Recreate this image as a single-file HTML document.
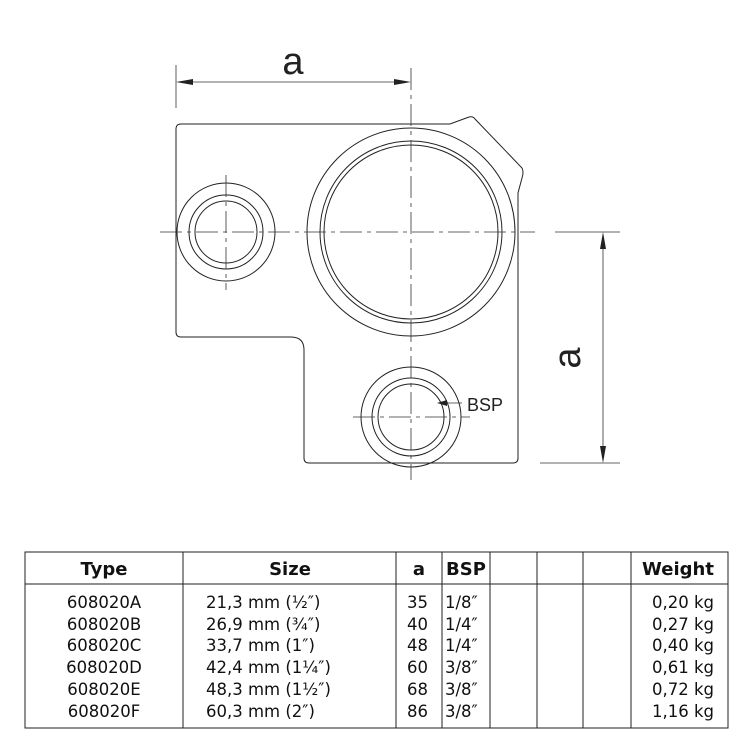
<!DOCTYPE html>
<html><head><style>
body{margin:0;background:#fff;}
svg{display:block}
</style></head><body>
<svg width="750" height="750" xmlns="http://www.w3.org/2000/svg">
<g fill="none" stroke="#222" stroke-width="1">
<path d="M181,124 H450 L469,117 Q473,116 475,119 L522,168 Q524,172 522,178 L518,193 V458 Q518,463 513,463 H309 Q304,463 304,458 V350 Q304,337 291,337 H181 Q176,337 176,332 V129 Q176,124 181,124 Z"/>
<circle cx="411" cy="232" r="104"/>
<circle cx="411" cy="232" r="91"/>
<circle cx="411" cy="232" r="87"/>
<circle cx="226" cy="232" r="49"/>
<circle cx="226" cy="232" r="37"/>
<circle cx="226" cy="232" r="31"/>
<circle cx="411" cy="417" r="50"/>
<circle cx="411" cy="417" r="39"/>
<circle cx="411" cy="417" r="33"/>
</g>
<g stroke="#333" stroke-width="0.8" fill="none" stroke-dasharray="22,5,4,5">
<line x1="160" y1="232" x2="535" y2="232"/>
<line x1="411" y1="68" x2="411" y2="480"/>
<line x1="226" y1="175" x2="226" y2="290"/>
<line x1="353" y1="417" x2="470" y2="417"/>
</g>
<g stroke="#333" stroke-width="0.8">
<line x1="555" y1="232" x2="620" y2="232"/>
<line x1="540" y1="463" x2="620" y2="463"/>
<line x1="176" y1="65" x2="176" y2="108"/>
<line x1="185" y1="82" x2="402" y2="82"/>
<line x1="603" y1="241" x2="603" y2="454"/>
<line x1="445" y1="403" x2="462" y2="403"/>
</g>
<g fill="#222">
<polygon points="176,82 193,79 193,85"/>
<polygon points="411,82 394,79 394,85"/>
<polygon points="603,232 600,249 606,249"/>
<polygon points="603,463 600,446 606,446"/>
<polygon points="437,403 447,400 447,406"/>
</g>
<g font-family="Liberation Sans, sans-serif" fill="#222">
<text x="293" y="74" font-size="38" text-anchor="middle">a</text>
<text x="0" y="0" font-size="38" text-anchor="middle" transform="translate(580,358) rotate(-90)">a</text>
<text x="467" y="411" font-size="18">BSP</text>
</g>
<g stroke="#222" stroke-width="1" fill="none">
<rect x="25" y="552" width="703" height="176"/>
<line x1="25" y1="584" x2="728" y2="584"/>
<line x1="183" y1="552" x2="183" y2="728"/>
<line x1="396" y1="552" x2="396" y2="728"/>
<line x1="442" y1="552" x2="442" y2="728"/>
<line x1="490" y1="552" x2="490" y2="728"/>
<line x1="537" y1="552" x2="537" y2="728"/>
<line x1="583" y1="552" x2="583" y2="728"/>
<line x1="631" y1="552" x2="631" y2="728"/>
</g>
<g font-family="DejaVu Sans, sans-serif" font-size="18" font-weight="bold" fill="#111">
<text x="104" y="575" text-anchor="middle">Type</text>
<text x="290" y="575" text-anchor="middle">Size</text>
<text x="419" y="575" text-anchor="middle">a</text>
<text x="466" y="575" text-anchor="middle">BSP</text>
<text x="678" y="575" text-anchor="middle">Weight</text>
</g>
<g font-family="DejaVu Sans, sans-serif" font-size="16.5" fill="#111">
<g text-anchor="middle">
<text x="104" y="608">608020A</text><text x="104" y="630">608020B</text><text x="104" y="651">608020C</text><text x="104" y="673">608020D</text><text x="104" y="695">608020E</text><text x="104" y="717">608020F</text>
</g>
<text x="206" y="608">21,3 mm (½″)</text><text x="206" y="630">26,9 mm (¾″)</text><text x="206" y="651">33,7 mm (1″)</text><text x="206" y="673">42,4 mm (1¼″)</text><text x="206" y="695">48,3 mm (1½″)</text><text x="206" y="717">60,3 mm (2″)</text>
<text x="407" y="608">35</text><text x="407" y="630">40</text><text x="407" y="651">48</text><text x="407" y="673">60</text><text x="407" y="695">68</text><text x="407" y="717">86</text>
<text x="445" y="608">1/8″</text><text x="445" y="630">1/4″</text><text x="445" y="651">1/4″</text><text x="445" y="673">3/8″</text><text x="445" y="695">3/8″</text><text x="445" y="717">3/8″</text>
<g text-anchor="end">
<text x="714" y="608">0,20 kg</text><text x="714" y="630">0,27 kg</text><text x="714" y="651">0,40 kg</text><text x="714" y="673">0,61 kg</text><text x="714" y="695">0,72 kg</text><text x="714" y="717">1,16 kg</text>
</g>
</g>
</svg>
</body></html>
